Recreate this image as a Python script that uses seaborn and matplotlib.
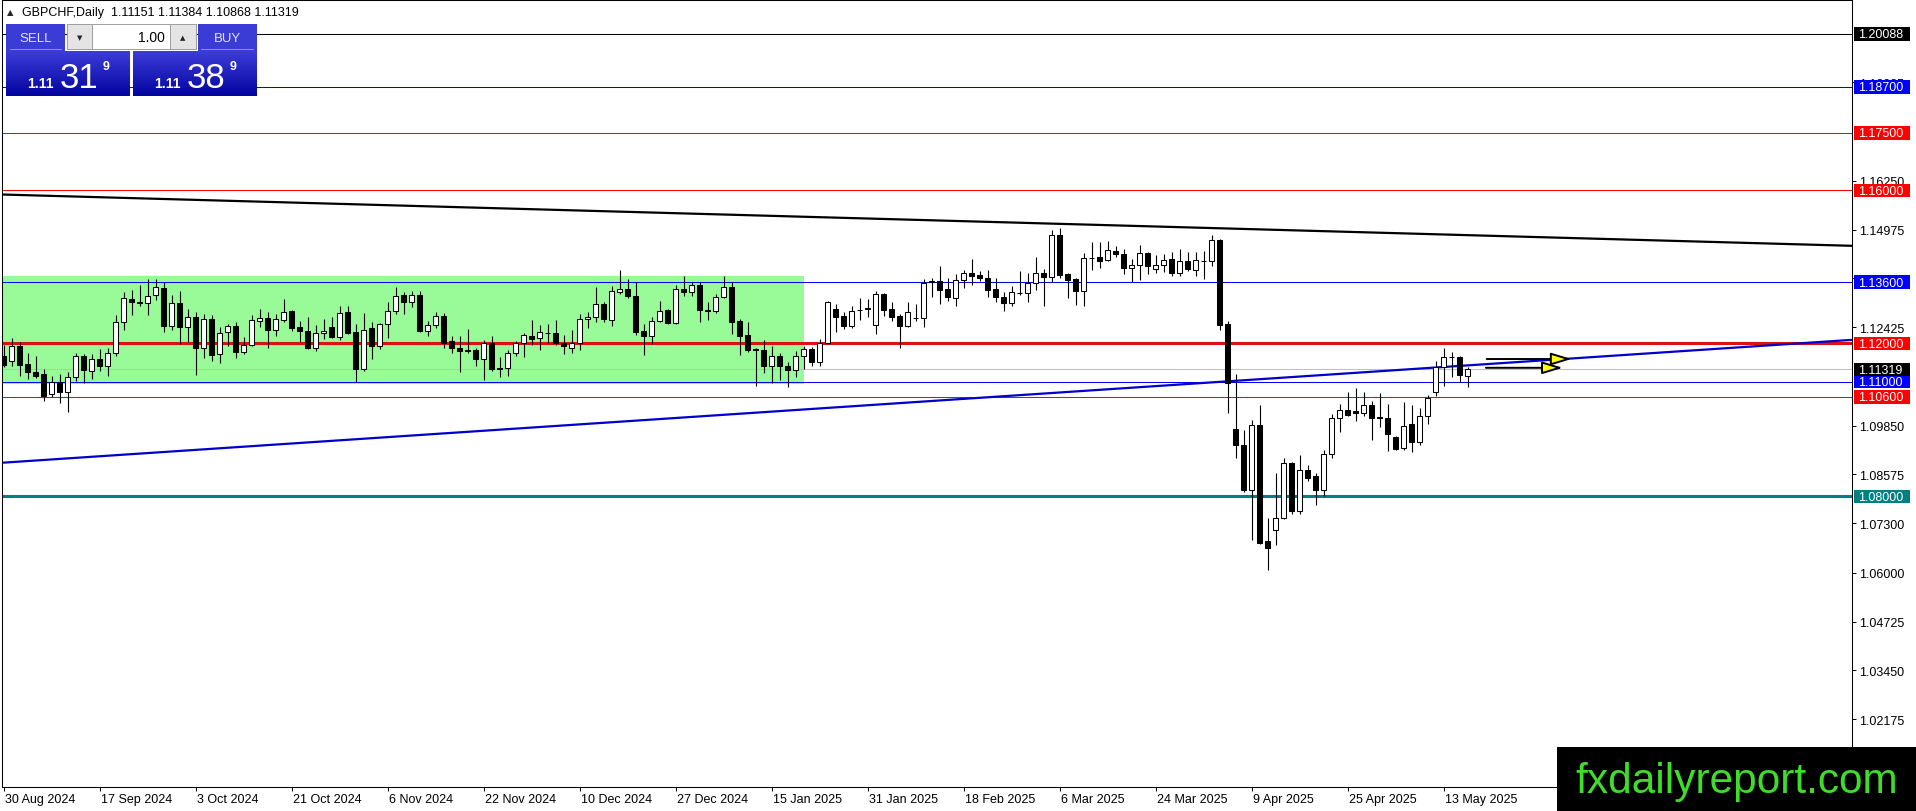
import numpy as np
import pandas as pd
import seaborn as sns
import matplotlib.pyplot as plt
import matplotlib.transforms as mtransforms
from matplotlib.patches import Rectangle
from matplotlib.colors import LinearSegmentedColormap

symbol = "GBPCHF,Daily"
first_day = "2024-08-30"
closed_days = ["2024-12-25", "2025-01-01"]

opens = [
    1.1168, 1.1153, 1.1192, 1.1146, 1.1124, 1.1120, 1.1067, 1.1100, 1.1072, 1.1111,
    1.1166, 1.1127, 1.1159, 1.1141, 1.1176, 1.1255, 1.1316, 1.1306, 1.1305, 1.1326,
    1.1345, 1.1246, 1.1305, 1.1242, 1.1268, 1.1187, 1.1264, 1.1172, 1.1229, 1.1244,
    1.1178, 1.1196, 1.1259, 1.1266, 1.1236, 1.1262, 1.1284, 1.1243, 1.1233, 1.1188,
    1.1227, 1.1243, 1.1217, 1.1283, 1.1230, 1.1134, 1.1239, 1.1192, 1.1250, 1.1284,
    1.1326, 1.1309, 1.1326, 1.1233, 1.1248, 1.1271, 1.1207, 1.1189, 1.1182, 1.1183,
    1.1159, 1.1202, 1.1136, 1.1135, 1.1176, 1.1201, 1.1218, 1.1213, 1.1228, 1.1227,
    1.1202, 1.1189, 1.1200, 1.1264, 1.1268, 1.1303, 1.1261, 1.1335, 1.1342, 1.1323,
    1.1233, 1.1220, 1.1259, 1.1288, 1.1253, 1.1342, 1.1335, 1.1353, 1.1286, 1.1284,
    1.1320, 1.1346, 1.1259, 1.1222, 1.1185, 1.1182, 1.1140, 1.1166, 1.1141, 1.1131,
    1.1168, 1.1185, 1.1150, 1.1201, 1.1290, 1.1272, 1.1244, 1.1287, 1.1290, 1.1249,
    1.1329, 1.1290, 1.1272, 1.1246, 1.1266, 1.1265, 1.1362, 1.1362, 1.1342, 1.1318,
    1.1365, 1.1385, 1.1379, 1.1370, 1.1342, 1.1320, 1.1305, 1.1332, 1.1331, 1.1357,
    1.1383, 1.1374, 1.1483, 1.1380, 1.1368, 1.1338, 1.1423, 1.1425, 1.1417, 1.1441,
    1.1433, 1.1396, 1.1406, 1.1437, 1.1394, 1.1406, 1.1420, 1.1384, 1.1415, 1.1392,
    1.1415, 1.1415, 1.1470, 1.1250, 1.0976, 1.0934, 1.0817, 1.0986, 1.0684, 1.0712,
    1.0742, 1.0887, 1.0762, 1.0869, 1.0852, 1.0817, 1.0910, 1.1004, 1.1026, 1.1023,
    1.1017, 1.1040, 1.1007, 1.1006, 1.0954, 1.0925, 1.0988, 1.0943, 1.1011, 1.1073,
    1.1137, 1.1164, 1.1165, 1.11151,
]
highs = [
    1.1196, 1.1213, 1.1204, 1.1175, 1.1168, 1.1133, 1.1114, 1.1120, 1.1124, 1.1175,
    1.1172, 1.1172, 1.1185, 1.1187, 1.1274, 1.1335, 1.1339, 1.1353, 1.1368, 1.1368,
    1.1360, 1.1326, 1.1337, 1.1291, 1.1281, 1.1277, 1.1274, 1.1242, 1.1250, 1.1257,
    1.1216, 1.1274, 1.1290, 1.1281, 1.1277, 1.1316, 1.1288, 1.1259, 1.1268, 1.1248,
    1.1264, 1.1268, 1.1298, 1.1298, 1.1251, 1.1279, 1.1257, 1.1253, 1.1307, 1.1346,
    1.1333, 1.1338, 1.1336, 1.1259, 1.1283, 1.1279, 1.1220, 1.1220, 1.1237, 1.1189,
    1.1209, 1.1220, 1.1163, 1.1183, 1.1207, 1.1227, 1.1261, 1.1248, 1.1251, 1.1260,
    1.1222, 1.1235, 1.1277, 1.1281, 1.1346, 1.1309, 1.1351, 1.1392, 1.1368, 1.1360,
    1.1251, 1.1268, 1.1311, 1.1290, 1.1353, 1.1377, 1.1361, 1.1361, 1.1307, 1.1329,
    1.1377, 1.1360, 1.1264, 1.1255, 1.1189, 1.1209, 1.1192, 1.1175, 1.1150, 1.1181,
    1.1192, 1.1190, 1.1211, 1.1311, 1.1303, 1.1281, 1.1298, 1.1318, 1.1316, 1.1338,
    1.1331, 1.1307, 1.1277, 1.1309, 1.1303, 1.1368, 1.1370, 1.1401, 1.1372, 1.1381,
    1.1392, 1.1420, 1.1390, 1.1392, 1.1370, 1.1335, 1.1351, 1.1390, 1.1384, 1.1427,
    1.1394, 1.1497, 1.1501, 1.1385, 1.1372, 1.1436, 1.1464, 1.1464, 1.1467, 1.1454,
    1.1447, 1.1420, 1.1457, 1.1440, 1.1431, 1.1433, 1.1440, 1.1447, 1.1438, 1.1438,
    1.1442, 1.1483, 1.1473, 1.1259, 1.1120, 1.0974, 1.0999, 1.1039, 1.0742, 1.0861,
    1.0899, 1.0889, 1.0908, 1.0882, 1.0862, 1.0922, 1.1015, 1.1041, 1.1073, 1.1082,
    1.1072, 1.1050, 1.1070, 1.1041, 1.0957, 1.1047, 1.1039, 1.1030, 1.1065, 1.1155,
    1.1187, 1.1178, 1.1167, 1.11384,
]
lows = [
    1.1137, 1.1140, 1.1115, 1.1108, 1.1110, 1.1050, 1.1059, 1.1043, 1.1021, 1.1102,
    1.1095, 1.1107, 1.1128, 1.1115, 1.1168, 1.1236, 1.1274, 1.1298, 1.1274, 1.1314,
    1.1229, 1.1236, 1.1198, 1.1204, 1.1118, 1.1162, 1.1155, 1.1148, 1.1192, 1.1161,
    1.1172, 1.1192, 1.1242, 1.1187, 1.1220, 1.1255, 1.1233, 1.1204, 1.1185, 1.1181,
    1.1211, 1.1215, 1.1209, 1.1224, 1.1100, 1.1128, 1.1159, 1.1185, 1.1215, 1.1277,
    1.1277, 1.1294, 1.1230, 1.1220, 1.1239, 1.1187, 1.1176, 1.1124, 1.1175, 1.1141,
    1.1105, 1.1128, 1.1111, 1.1115, 1.1168, 1.1163, 1.1196, 1.1183, 1.1202, 1.1196,
    1.1172, 1.1175, 1.1183, 1.1240, 1.1255, 1.1257, 1.1246, 1.1329, 1.1318, 1.1222,
    1.1169, 1.1198, 1.1255, 1.1251, 1.1251, 1.1325, 1.1323, 1.1255, 1.1262, 1.1279,
    1.1318, 1.1224, 1.1169, 1.1178, 1.1089, 1.1122, 1.1095, 1.1105, 1.1085, 1.1111,
    1.1133, 1.1140, 1.1140, 1.1198, 1.1229, 1.1237, 1.1239, 1.1262, 1.1268, 1.1224,
    1.1272, 1.1259, 1.1187, 1.1242, 1.1259, 1.1242, 1.1320, 1.1303, 1.1311, 1.1297,
    1.1344, 1.1353, 1.1364, 1.1322, 1.1307, 1.1284, 1.1297, 1.1326, 1.1307, 1.1340,
    1.1297, 1.1361, 1.1370, 1.1318, 1.1301, 1.1298, 1.1393, 1.1398, 1.1414, 1.1425,
    1.1381, 1.1361, 1.1366, 1.1381, 1.1384, 1.1386, 1.1375, 1.1375, 1.1390, 1.1375,
    1.1368, 1.1403, 1.1236, 1.1018, 1.0899, 1.0812, 1.0686, 1.0675, 1.0608, 1.0672,
    1.0740, 1.0753, 1.0753, 1.0841, 1.0777, 1.0800, 1.0899, 1.0969, 1.1009, 1.0998,
    1.1011, 1.0948, 1.0980, 1.0919, 1.0922, 1.0922, 1.0917, 1.0934, 1.0989, 1.1063,
    1.1089, 1.1113, 1.1098, 1.10868,
]
closes = [
    1.1143, 1.1192, 1.1144, 1.1124, 1.1115, 1.1062, 1.1098, 1.1072, 1.1111, 1.1166,
    1.1131, 1.1159, 1.1141, 1.1176, 1.1255, 1.1318, 1.1307, 1.1308, 1.1323, 1.1346,
    1.1244, 1.1305, 1.1242, 1.1268, 1.1187, 1.1264, 1.1170, 1.1227, 1.1244, 1.1178,
    1.1196, 1.1260, 1.1266, 1.1236, 1.1264, 1.1283, 1.1240, 1.1233, 1.1188, 1.1227,
    1.1233, 1.1217, 1.1278, 1.1227, 1.1134, 1.1235, 1.1192, 1.1251, 1.1284, 1.1325,
    1.1309, 1.1326, 1.1233, 1.1248, 1.1271, 1.1202, 1.1188, 1.1181, 1.1180, 1.1159,
    1.1201, 1.1134, 1.1134, 1.1176, 1.1201, 1.1222, 1.1211, 1.1229, 1.1226, 1.1202,
    1.1194, 1.1201, 1.1264, 1.1268, 1.1303, 1.1264, 1.1336, 1.1342, 1.1323, 1.1230,
    1.1220, 1.1259, 1.1285, 1.1253, 1.1342, 1.1335, 1.1353, 1.1287, 1.1285, 1.1320,
    1.1346, 1.1257, 1.1220, 1.1183, 1.1183, 1.1140, 1.1166, 1.1140, 1.1131, 1.1168,
    1.1185, 1.1150, 1.1202, 1.1307, 1.1270, 1.1244, 1.1285, 1.1288, 1.1292, 1.1329,
    1.1288, 1.1270, 1.1246, 1.1281, 1.1265, 1.1359, 1.1361, 1.1340, 1.1320, 1.1365,
    1.1385, 1.1377, 1.1370, 1.1340, 1.1320, 1.1305, 1.1333, 1.1331, 1.1357, 1.1383,
    1.1374, 1.1483, 1.1379, 1.1366, 1.1338, 1.1422, 1.1422, 1.1416, 1.1443, 1.1433,
    1.1396, 1.1406, 1.1435, 1.1403, 1.1406, 1.1419, 1.1383, 1.1416, 1.1394, 1.1418,
    1.1416, 1.1470, 1.1248, 1.1095, 1.0934, 1.0817, 1.0986, 1.0679, 1.0664, 1.0742,
    1.0887, 1.0762, 1.0869, 1.0849, 1.0817, 1.0910, 1.1006, 1.1026, 1.1012, 1.1017,
    1.1040, 1.1006, 1.1006, 1.0964, 1.0923, 1.0984, 1.0943, 1.1011, 1.1056, 1.1137,
    1.1163, 1.1165, 1.1117, 1.11319,
]
ask_price = 1.11389

level_prices = [1.20088, 1.18700, 1.17500, 1.16000, 1.13600, 1.12000, 1.11000, 1.10600, 1.08000]
level_kinds = ["black", "blue", "red", "red", "blue", "red_thick", "blue", "red", "teal_thick"]

# scale labels that are not hidden behind a level label or the watermark
scale_ticks = [1.18825, 1.16250, 1.14975, 1.13700, 1.12425, 1.09850,
               1.08575, 1.07300, 1.06000, 1.04725, 1.03450, 1.02175]

upper_trend_bars = [0, 231]
upper_trend_prices = [1.1589, 1.1455]
lower_trend_bars = [0, 231]
lower_trend_prices = [1.0888, 1.1209]

range_bars = [-2, 100]
range_prices = [1.1094, 1.1375]

arrow_start_bars = [185.4, 185.3]
arrow_end_bars = [196.0, 194.9]
arrow_prices = [1.1159, 1.1136]

view_bars = (-0.19, 231.06)
view_prices = (1.00399, 1.20977)

watermark = "fxdailyreport.com"

# ---------------------------------------------------------------
n = len(opens)
days = pd.bdate_range(first_day, periods=n + 10)
days = days[~days.isin(pd.to_datetime(closed_days))][:n]
df = pd.DataFrame({"date": days, "open": opens, "high": highs, "low": lows, "close": closes})
df["bar"] = np.arange(n)
df["up"] = df["close"] >= df["open"]

kind_style = {
    "black": ("#000000", 0.75, "#000000"),
    "blue": ("#0000ff", 0.75, "#0000ff"),
    "red": ("#ff0000", 0.75, "#ff0000"),
    "red_thick": ("#dd1111", 2.2, "#ff0000"),
    "teal_thick": ("#008080", 2.2, "#008080"),
}

W, H = 1916, 812
sns.set_theme(style="white")
plt.rcParams["font.family"] = ["Liberation Sans", "DejaVu Sans"]

fig = plt.figure(figsize=(W / 100, H / 100), dpi=100)
fig.patch.set_facecolor("white")
ax = fig.add_axes([2 / W, 24 / H, 1850 / W, 787 / H])
ax.set_facecolor("white")

# range box
ax.add_patch(Rectangle((range_bars[0], range_prices[0]), range_bars[1] - range_bars[0],
                       range_prices[1] - range_prices[0], facecolor="#98fb98",
                       edgecolor="none", zorder=0.5))

# horizontal levels and bid line
for price, kind in zip(level_prices, level_kinds):
    col, lw, _ = kind_style[kind]
    ax.axhline(price, color=col, lw=lw, zorder=1)
ax.axhline(closes[-1], color="#c0c0c0", lw=0.75, zorder=1)

# trendlines
trend_df = pd.DataFrame({
    "bar": upper_trend_bars + lower_trend_bars,
    "price": upper_trend_prices + lower_trend_prices,
    "line": ["upper"] * 2 + ["lower"] * 2,
})
sns.lineplot(data=trend_df, x="bar", y="price", hue="line", estimator=None, sort=False,
             palette={"upper": "#000000", "lower": "#0000cc"}, linewidth=1.6,
             legend=False, ax=ax, zorder=2)

# candles
ax.vlines(df["bar"], df["low"], df["high"], color="black", lw=0.8, zorder=3)
body_low = df[["open", "close"]].min(axis=1)
body_h = (df["close"] - df["open"]).abs().clip(lower=0.00004)
ax.bar(df["bar"], body_h, bottom=body_low, width=0.56,
       color=np.where(df["up"], "white", "black"), edgecolor="black",
       linewidth=0.75, zorder=4)

# arrows
for x0, x1, p in zip(arrow_start_bars, arrow_end_bars, arrow_prices):
    ax.annotate("", xy=(x1, p), xytext=(x0, p),
                arrowprops=dict(arrowstyle="-|>,head_length=1.25,head_width=0.38",
                                fc="#ffff00", ec="black", lw=1.4, mutation_scale=10,
                                shrinkA=0, shrinkB=0), zorder=5)

ax.set_xlim(*view_bars)
ax.set_ylim(*view_prices)
ax.set_xlabel("")
ax.set_ylabel("")

# date axis
tick_rows = df.iloc[::12]
ax.set_xticks(tick_rows["bar"])
ax.set_xticklabels([f"{d.day} {d:%b %Y}" for d in tick_rows["date"]])
ax.tick_params(axis="x", bottom=True, direction="out", length=3, width=0.7,
               pad=1.5, labelsize=9, colors="black")
shift = mtransforms.ScaledTranslation(1.5 / 100, 0, fig.dpi_scale_trans)
for lab in ax.get_xticklabels():
    lab.set_horizontalalignment("left")
    lab.set_transform(lab.get_transform() + shift)

# price axis
ax.yaxis.tick_right()
ax.set_yticks(scale_ticks)
ax.set_yticklabels([f"{v:.5f}" for v in scale_ticks])
ax.tick_params(axis="y", right=True, left=False, direction="out", length=3,
               width=0.7, pad=2.2, labelsize=9, colors="black")
for s in ax.spines.values():
    s.set_color("black")
    s.set_linewidth(0.75)

# level labels on the price scale
trans = mtransforms.blended_transform_factory(ax.transAxes, ax.transData)
ppu = 787 / (view_prices[1] - view_prices[0])
box_h = 13.5 / ppu
labels = [(p, kind_style[k][2]) for p, k in zip(level_prices, level_kinds)]
labels.append((closes[-1], "#000000"))
for price, col in labels:
    ax.add_patch(Rectangle((1 + 2 / 1850, price - box_h / 2), 56 / 1850, box_h,
                           transform=trans, facecolor=col, edgecolor="none",
                           clip_on=False, zorder=6))
    ax.text(1 + 6 / 1850, price - 0.4 / ppu, f"{price:.5f}", transform=trans,
            ha="left", va="center", color="white", fontsize=9, clip_on=False, zorder=7)


# ---- overlays in figure pixels (top-left origin) ----
def fx(x):
    return x / W


def fy(y):
    return 1 - y / H


def fig_box(x0, y0, x1, y1, color, z=5):
    fig.add_artist(Rectangle((fx(x0), fy(y1)), (x1 - x0) / W, (y1 - y0) / H,
                             transform=fig.transFigure, facecolor=color,
                             edgecolor="none", zorder=z))


def gradient_box(x0, y0, x1, y1, top, bottom):
    a = fig.add_axes([fx(x0), fy(y1), (x1 - x0) / W, (y1 - y0) / H])
    cmap = LinearSegmentedColormap.from_list("panel", [top, bottom])
    a.imshow(np.linspace(0, 1, 64).reshape(-1, 1), aspect="auto", cmap=cmap)
    a.set_axis_off()


# header
fig.text(fx(7), fy(13), "\u25b2", fontsize=6, va="center", family=["DejaVu Sans"], zorder=8)
fig.text(fx(22), fy(13),
         f"{symbol}  {opens[-1]:.5f} {highs[-1]:.5f} {lows[-1]:.5f} {closes[-1]:.5f}",
         fontsize=9, va="center", color="black", zorder=8)

# one-click trading panel
fig_box(6, 25, 65, 52, "#3b3bd6")
fig_box(10, 50, 62, 51, "#8c8cff", z=6)
fig_box(198, 25, 257, 52, "#3b3bd6")
fig_box(201, 50, 254, 51, "#8c8cff", z=6)
fig_box(67, 25, 197, 51, "#a0a0a0")
fig_box(68, 26, 92, 50, "#e4e4e4", z=6)
fig_box(93, 26, 170, 50, "#ffffff", z=6)
fig_box(171, 26, 196, 50, "#e4e4e4", z=6)
fig.text(fx(35.5), fy(38.5), "SELL", fontsize=9.5, ha="center", va="center", color="#e4e4ff", zorder=8)
fig.text(fx(227.5), fy(38.5), "BUY", fontsize=9.5, ha="center", va="center", color="#e4e4ff", zorder=8)
fig.text(fx(80), fy(38), "\u25bc", fontsize=5, ha="center", va="center", family=["DejaVu Sans"], zorder=8)
fig.text(fx(183), fy(38), "\u25b2", fontsize=5, ha="center", va="center", family=["DejaVu Sans"], zorder=8)
fig.text(fx(165), fy(38.5), "1.00", fontsize=10, ha="right", va="center", color="black", zorder=8)

gradient_box(6, 52, 130, 97, "#3c3cd8", "#0404a0")
gradient_box(133, 52, 257, 97, "#3c3cd8", "#0404a0")
for price, left in [(closes[-1], 0), (ask_price, 127)]:
    s = f"{price:.5f}"
    fig.text(fx(27 + left), fy(87.5), s[:4], fontsize=10, fontweight="bold",
             color="white", va="baseline", zorder=8)
    fig.text(fx(60 + left), fy(87.5), s[4:6], fontsize=25, color="white",
             va="baseline", zorder=8)
    fig.text(fx(103 + left), fy(70), s[6], fontsize=9, fontweight="bold",
             color="white", va="baseline", zorder=8)

# watermark
fig_box(1557, 748, 1916, 812, "#000000", z=9)
fig.text(fx(1575), fy(793), watermark, fontsize=30.5, color="#3fdc2a",
         va="baseline", ha="left", zorder=10)

fig.savefig("out.png", dpi=100)
